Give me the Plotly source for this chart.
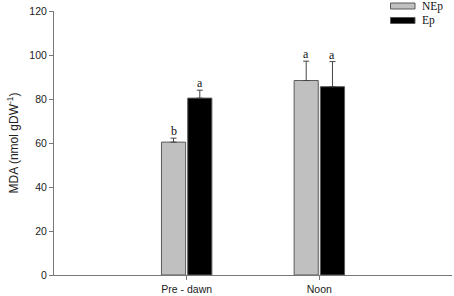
import plotly.graph_objects as go

categories = ["Pre - dawn", "Noon"]
nep_values = [60.4, 88.4]
nep_errors = [1.8, 8.8]
ep_values = [80.4, 85.6]
ep_errors = [3.6, 11.4]
nep_letters = ["b", "a"]
ep_letters = ["a", "a"]
series_names = ["NEp", "Ep"]

fig = go.Figure()
edge = "#5a5a5a"
fig.add_trace(go.Bar(
    x=categories, y=nep_values, name=series_names[0],
    width=0.182, offset=-0.19,
    marker=dict(color="#c0c0c0", line=dict(color=edge, width=1)),
    error_y=dict(type="data", array=nep_errors, arrayminus=[0, 0], symmetric=False,
                 color="#444", thickness=1, width=3),
))
fig.add_trace(go.Bar(
    x=categories, y=ep_values, name=series_names[1],
    width=0.182, offset=0.008,
    marker=dict(color="#000000", line=dict(color=edge, width=1)),
    error_y=dict(type="data", array=ep_errors, arrayminus=[0, 0], symmetric=False,
                 color="#444", thickness=1, width=3),
))

serif = "Liberation Serif, Times New Roman, serif"
for i, c in enumerate(categories):
    fig.add_annotation(x=i, y=nep_values[i] + nep_errors[i], text=nep_letters[i],
                       xshift=-0.099 * 132.67, showarrow=False, yanchor="bottom",
                       font=dict(family=serif, size=12, color="#111"), yshift=-2)
    fig.add_annotation(x=i, y=ep_values[i] + ep_errors[i], text=ep_letters[i],
                       xshift=0.099 * 132.67, showarrow=False, yanchor="bottom",
                       font=dict(family=serif, size=12, color="#111"), yshift=-2)

# legend drawn manually (patches + labels)
H = 264.3
W = 398.0
def px_x(x):
    return (x - 54) / W
def px_y(y):
    return 1 - (y - 11) / H

legend_items = [(series_names[0], "#c0c0c0", 3.0), (series_names[1], "#000000", 17.5)]
for name, col, ytop in legend_items:
    fig.add_shape(type="rect", xref="paper", yref="paper",
                  x0=px_x(390.5), x1=px_x(415), y0=px_y(ytop), y1=px_y(ytop + 6),
                  fillcolor=col, line=dict(color=edge, width=1))
    fig.add_annotation(xref="paper", yref="paper", x=px_x(420), y=px_y(ytop + 3),
                       text=name, showarrow=False, xanchor="left", yanchor="middle",
                       font=dict(family=serif, size=11.5, color="#111"))

axis_col = "#777777"
fig.update_layout(
    width=454, height=296,
    margin=dict(l=54, r=2, t=11, b=21),
    paper_bgcolor="white", plot_bgcolor="white",
    barmode="overlay", showlegend=False,
    font=dict(family="Arial, Liberation Sans, sans-serif", size=10, color="#222"),
    xaxis=dict(range=[-1, 2], showline=True, linecolor=axis_col, linewidth=1,
               ticks="outside", ticklen=4, tickcolor=axis_col, showgrid=False,
               zeroline=False, tickfont=dict(size=10.5)),
    yaxis=dict(range=[0, 120], dtick=20, showline=True, linecolor=axis_col, linewidth=1,
               ticks="outside", ticklen=4, tickcolor=axis_col, showgrid=False,
               zeroline=False, tickfont=dict(size=10.5),
               title=dict(text="MDA (nmol gDW<sup>-1</sup>)", font=dict(size=12), standoff=8)),
)

fig.write_html("out.html", config={"displayModeBar": False},
               post_script="document.body.style.margin='0';document.body.style.overflow='hidden';")
